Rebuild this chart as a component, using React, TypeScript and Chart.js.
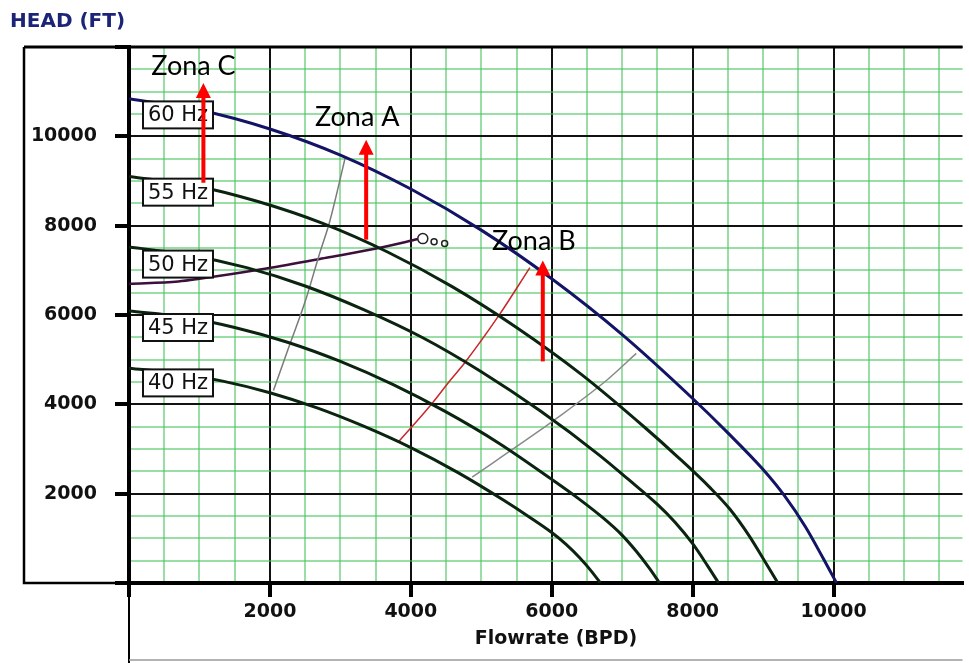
import React, { useEffect, useRef } from 'react';
import { Chart, registerables } from 'chart.js';

Chart.register(...registerables);

// ---- Data (flow in BPD, head in FT) ----
const flow60 = [0, 1000, 2000, 3000, 4000, 5000, 6000, 7000, 8000, 8500, 9000, 9300, 9600, 9850, 10042];
const head60 = [10840, 10590, 10165, 9580, 8820, 7900, 6810, 5560, 4130, 3360, 2540, 1960, 1260, 560, 0];

const flow55 = [0, 920, 1830, 2750, 3670, 4580, 5500, 6420, 7330, 7790, 8250, 8530, 8800, 9030, 9210];
const head55 = [9100, 8900, 8540, 8050, 7410, 6640, 5720, 4670, 3470, 2820, 2130, 1650, 1060, 470, 0];

const flow50 = [0, 830, 1670, 2500, 3330, 4170, 5000, 5830, 6670, 7080, 7500, 7750, 8000, 8210, 8368];
const head50 = [7520, 7350, 7060, 6650, 6120, 5490, 4730, 3860, 2870, 2330, 1760, 1360, 880, 390, 0];

const flow45 = [0, 750, 1500, 2250, 3000, 3750, 4500, 5250, 6000, 6380, 6750, 6980, 7200, 7390, 7530];
const head45 = [6090, 5960, 5720, 5390, 4960, 4440, 3830, 3130, 2320, 1890, 1430, 1100, 710, 320, 0];

const flow40 = [0, 670, 1330, 2000, 2670, 3330, 4000, 4670, 5330, 5670, 6000, 6200, 6400, 6570, 6690];
const head40 = [4810, 4700, 4520, 4260, 3920, 3510, 3030, 2470, 1840, 1490, 1130, 870, 560, 250, 0];

const minFlowQ = [2050, 2250, 2500, 2700, 2850, 3070];
const minFlowH = [4310, 5200, 6300, 7350, 8100, 9530];

const bepQ = [3820, 4280, 4560, 4760, 5250, 5690];
const bepH = [3150, 3980, 4540, 4920, 5990, 7060];

const maxFlowQ = [4870, 5790, 6030, 6780, 7200];
const maxFlowH = [2370, 3370, 3640, 4540, 5140];

const systemQ = [0, 700, 1000, 1950, 2800, 3580, 4100];
const systemH = [6700, 6750, 6810, 7040, 7280, 7510, 7700];

const markerQ = [4170, 4330, 4480];
const markerH = [7710, 7640, 7600];

const hzLabels = ['60 Hz', '55 Hz', '50 Hz', '45 Hz', '40 Hz'];
const hzLabelHeads = [10480, 8750, 7140, 5720, 4480];

const zoneNames = ['Zona C', 'Zona A', 'Zona B'];
const zoneLabelQ = [915, 3239, 5746];
const zoneLabelH = [11374, 10235, 7464];
const zoneArrowQ = [1056, 3366, 5873];
const zoneArrowFromH = [8961, 7687, 4961];
const zoneArrowToH = [11196, 9922, 7218];

const xMax = 11830;
const yMax = 12000;
const gridStep = 500;
const majorStep = 2000;
const xTitle = 'Flowrate (BPD)';
const yTitle = 'HEAD (FT)';

const pts = (xs: number[], ys: number[]) => xs.map((x, i) => ({ x, y: ys[i] }));

const GREEN = 'rgba(70,195,90,0.55)';
const CURVE = '#0b2410';

const decorPlugin = {
  id: 'decor',
  beforeDraw(chart: any) {
    const { ctx } = chart;
    ctx.save();
    ctx.fillStyle = '#fff';
    ctx.fillRect(0, 0, chart.width, chart.height);
    ctx.restore();
  },
  afterDatasetsDraw(chart: any) {
    const { ctx, chartArea, scales } = chart;
    const xs = scales.x;
    const ys = scales.y;
    ctx.save();
    // Hz label boxes
    ctx.font = '21px "DejaVu Sans"';
    ctx.textAlign = 'center';
    ctx.textBaseline = 'middle';
    hzLabels.forEach((lbl, i) => {
      const cy = ys.getPixelForValue(hzLabelHeads[i]);
      const left = chartArea.left + 14;
      const w = 70;
      const h = 27;
      ctx.fillStyle = '#fff';
      ctx.fillRect(left, cy - h / 2, w, h);
      ctx.strokeStyle = '#111';
      ctx.lineWidth = 2;
      ctx.strokeRect(left, cy - h / 2, w, h);
      ctx.fillStyle = '#111';
      ctx.fillText(lbl, left + w / 2, cy + 1);
    });
    // Red arrows
    ctx.strokeStyle = '#ff0000';
    ctx.fillStyle = '#ff0000';
    ctx.lineWidth = 4;
    zoneArrowQ.forEach((q, i) => {
      const x = xs.getPixelForValue(q);
      const y0 = ys.getPixelForValue(zoneArrowFromH[i]);
      const y1 = ys.getPixelForValue(zoneArrowToH[i]);
      ctx.beginPath();
      ctx.moveTo(x, y0);
      ctx.lineTo(x, y1 + 12);
      ctx.stroke();
      ctx.beginPath();
      ctx.moveTo(x, y1);
      ctx.lineTo(x - 7.5, y1 + 15);
      ctx.lineTo(x + 7.5, y1 + 15);
      ctx.closePath();
      ctx.fill();
    });
    // Zone labels
    ctx.fillStyle = '#000';
    ctx.font = '27px Lato';
    ctx.textAlign = 'center';
    ctx.textBaseline = 'alphabetic';
    zoneNames.forEach((z, i) => {
      ctx.fillText(z, xs.getPixelForValue(zoneLabelQ[i]), ys.getPixelForValue(zoneLabelH[i]));
    });
    ctx.restore();
  },
  afterDraw(chart: any) {
    const { ctx, chartArea } = chart;
    const { left, top, bottom, right } = chartArea;
    ctx.save();
    ctx.strokeStyle = '#000';
    ctx.lineWidth = 3;
    ctx.beginPath();
    ctx.moveTo(24, top);
    ctx.lineTo(right, top);
    ctx.stroke();
    ctx.lineWidth = 2.5;
    ctx.beginPath();
    ctx.moveTo(24, top);
    ctx.lineTo(24, bottom);
    ctx.lineTo(left, bottom);
    ctx.stroke();
    ctx.lineWidth = 2;
    ctx.beginPath();
    ctx.moveTo(left, bottom);
    ctx.lineTo(left, chart.height);
    ctx.stroke();
    ctx.strokeStyle = '#9a9a9a';
    ctx.lineWidth = 1.5;
    ctx.beginPath();
    ctx.moveTo(left, chart.height - 3);
    ctx.lineTo(right, chart.height - 3);
    ctx.stroke();
    ctx.fillStyle = '#1c2478';
    ctx.font = 'bold 20px "DejaVu Sans"';
    ctx.textAlign = 'left';
    ctx.textBaseline = 'alphabetic';
    ctx.fillText(yTitle, 10, 27);
    ctx.fillStyle = '#111';
    ctx.font = 'bold 19px "DejaVu Sans"';
    ctx.textAlign = 'center';
    ctx.fillText(xTitle, 556, 644);
    ctx.restore();
  },
};

const isMajor = (v: number) => Math.abs(v % majorStep) < 1e-6;

const makeGrid = () => ({
  display: true,
  drawOnChartArea: true,
  drawTicks: true,
  tickLength: 14,
  color: (c: any) => (isMajor(c.tick ? c.tick.value : 0) ? '#111' : GREEN),
  lineWidth: 2,
  tickColor: (c: any) => (isMajor(c.tick ? c.tick.value : 0) ? '#000' : 'rgba(0,0,0,0)'),
  tickWidth: (c: any) => (isMajor(c.tick ? c.tick.value : 0) ? 4 : 1),
});

const setTicks = (limit: number) => (s: any) => {
  const t: { value: number }[] = [];
  for (let v = 0; v <= limit + 1e-6; v += gridStep) t.push({ value: v });
  s.ticks = t;
};

const tickFont = { family: 'DejaVu Sans', size: 19, weight: 'bold' as const };

export default function App() {
  const ref = useRef<HTMLCanvasElement | null>(null);
  useEffect(() => {
    if (!ref.current) return;
    const lineDs = (label: string, xs: number[], ys: number[], color: string, width: number) => ({
      label,
      data: pts(xs, ys),
      showLine: true,
      borderColor: color,
      backgroundColor: color,
      borderWidth: width,
      pointRadius: 0,
      fill: false,
      cubicInterpolationMode: 'monotone' as const,
    });
    const chart = new Chart(ref.current, {
      type: 'scatter',
      data: {
        datasets: [
          lineDs('60 Hz', flow60, head60, '#141466', 3),
          lineDs('55 Hz', flow55, head55, CURVE, 3),
          lineDs('50 Hz', flow50, head50, CURVE, 3),
          lineDs('45 Hz', flow45, head45, CURVE, 3),
          lineDs('40 Hz', flow40, head40, CURVE, 3),
          lineDs('Min', minFlowQ, minFlowH, '#7a7a7a', 1.5),
          lineDs('BEP', bepQ, bepH, '#c8262a', 1.5),
          lineDs('Max', maxFlowQ, maxFlowH, '#8a8a8a', 1.5),
          lineDs('System', systemQ, systemH, '#3c0f3c', 2.5),
          {
            label: 'Markers',
            data: pts(markerQ, markerH),
            showLine: false,
            pointRadius: [5, 3, 3],
            pointBorderWidth: 1.5,
            pointBorderColor: '#222',
            pointBackgroundColor: 'rgba(255,255,255,0)',
          } as any,
        ],
      },
      options: {
        animation: false,
        responsive: false,
        devicePixelRatio: 1,
        layout: { padding: { top: 47, right: 0, left: 0, bottom: 0 } },
        plugins: {
          legend: { display: false },
          title: { display: false },
          tooltip: { enabled: false },
        },
        scales: {
          x: {
            type: 'linear',
            min: 0,
            max: xMax,
            afterBuildTicks: setTicks(xMax),
            afterFit: (s: any) => {
              s.height = 80;
            },
            ticks: {
              autoSkip: false,
              maxRotation: 0,
              minRotation: 0,
              padding: 4,
              color: '#111',
              font: tickFont,
              callback: (v: any) => {
                const n = Number(v);
                return isMajor(n) && n > 0 && n <= 10000 ? String(n) : '';
              },
            },
            grid: makeGrid() as any,
            border: { display: true, color: '#000', width: 4 },
          },
          y: {
            type: 'linear',
            min: 0,
            max: yMax,
            afterBuildTicks: setTicks(yMax),
            afterFit: (s: any) => {
              s.width = 129;
            },
            ticks: {
              autoSkip: false,
              padding: 18,
              color: '#111',
              font: tickFont,
              callback: (v: any) => {
                const n = Number(v);
                return isMajor(n) && n > 0 && n < yMax ? String(n) : '';
              },
            },
            grid: makeGrid() as any,
            border: { display: true, color: '#000', width: 4 },
          },
        },
      },
      plugins: [decorPlugin],
    });
    return () => chart.destroy();
  }, []);
  return (
    <div style={{ position: 'fixed', left: 0, top: 0, width: 969, height: 663, background: '#fff' }}>
      <canvas ref={ref} width={969} height={663} style={{ display: 'block', width: 969, height: 663 }} />
    </div>
  );
}
